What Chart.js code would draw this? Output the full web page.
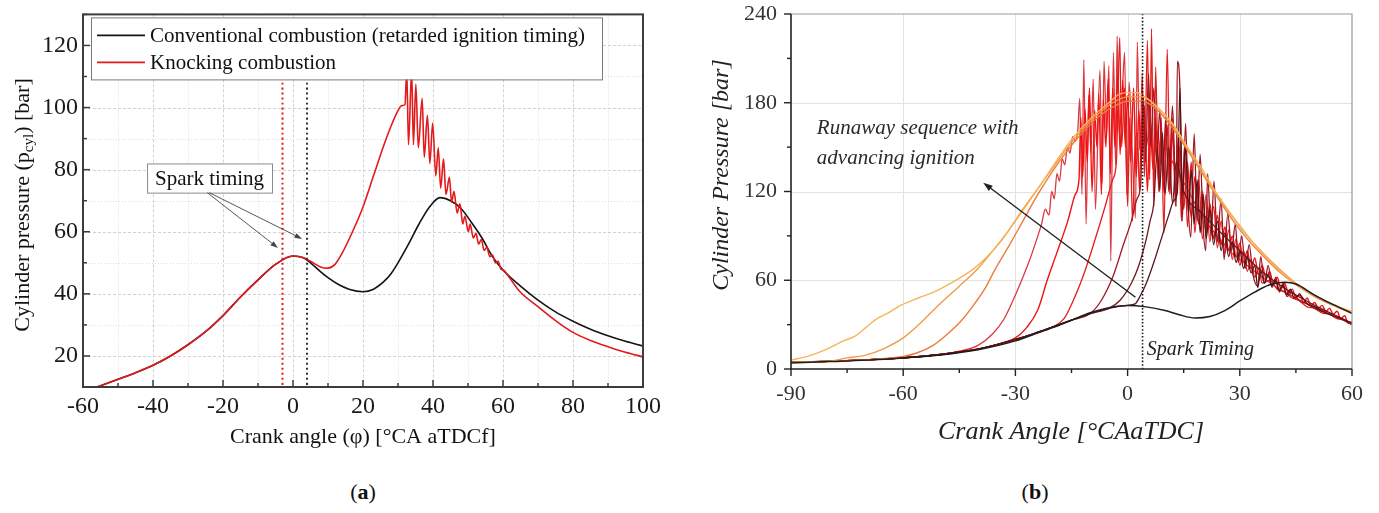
<!DOCTYPE html>
<html>
<head>
<meta charset="utf-8">
<script src="https://cdn.jsdelivr.net/npm/chart.js@4.4.0/dist/chart.umd.min.js"></script>
<style>
  html, body { margin: 0; padding: 0; background: #fff; width: 1379px; height: 513px; overflow: hidden; }
  #wrapA { position: absolute; left: 0; top: 0; }
  #wrapB { position: absolute; left: 690px; top: 0; }
  .cap { position: absolute; top: 479px; width: 60px; text-align: center; font: 22px "Liberation Serif", serif; color: #111; }
</style>
</head>
<body>
<div id="wrapA"><canvas id="chartA" width="690" height="460"></canvas></div>
<div id="wrapB"><canvas id="chartB" width="689" height="460"></canvas></div>
<div class="cap" style="left:333px">(<b>a</b>)</div>
<div class="cap" style="left:1005px">(<b>b</b>)</div>
<script>
const serif = '"Liberation Serif", "Times New Roman", serif';

/* ---- panel (a): crank angle vs cylinder pressure ---- */
const convA = [[-56,10],[-50,12.5],[-45,14.6],[-40,17],[-35,20],[-30,23.6],[-25,27.8],[-20,33],[-15,39],[-10,44.5],[-5,49.5],[0,52.2],[3,51.6],[5,50],[8,47],[10,45.2],[13,43],[16,41.5],[20,40.7],[23,41.5],[26,44],[28,46.5],[30,50],[33,56],[36,62.5],[39,68],[42,71],[45,70],[48,67.5],[51,63],[54,58],[57,52],[60,47.7],[65,42.5],[70,38],[75,34.2],[80,31.2],[85,28.6],[90,26.5],[95,24.7],[100,23.2]];
const knockA = [[-56,10],[-50,12.5],[-45,14.6],[-40,17],[-35,20],[-30,23.6],[-25,27.8],[-20,33],[-15,39],[-10,44.5],[-5,49.5],[0,52.2],[3,51.6],[5,50.5],[8,48.6],[10,48.3],[12,49.5],[14,53],[17,60],[20,68],[23,78],[26,88],[28,94],[30,99],[31,100.6],[32,101],[32.5,112],[33,88],[33.9,112],[34.4,88],[35.1,107.5],[35.8,87],[36.9,103],[37.5,84],[38.4,97.5],[39.1,82],[39.9,95],[40.8,78],[41.5,87],[42.2,74],[43,83.5],[43.7,72],[44.7,77.5],[45.3,69.5],[46,73],[46.9,66],[47.7,69],[48.5,62.5],[49.1,65],[50.1,60],[50.6,62.5],[51.5,58],[52.3,59.5],[53,56],[53.8,57.5],[54.6,54],[55.4,55],[56.2,52],[57,52.5],[57.8,50],[58.6,50.5],[59.4,48],[60.2,47.6],[61,46.5],[62,45],[65,40.5],[70,35.9],[75,31.4],[80,27.6],[85,25],[90,23],[95,21.2],[100,19.7]];
const sparkKnockA = -3;
const sparkConvA = 4;
const sparkTopA = 108;
const legendA = ['Conventional combustion (retarded ignition timing)', 'Knocking combustion'];

/* ---- panel (b): runaway knock sequence ---- */
const motorB = [[-90,4.5],[-80,5.2],[-70,6.2],[-60,7.6],[-50,9.8],[-45,11.5],[-40,13.5],[-35,16.5],[-30,20],[-25,24],[-20,28.5],[-15,33],[-10,37.5],[-5,41],[0,43]];
const convB = [[-90,4],[-80,5],[-70,6],[-60,7.5],[-50,9.5],[-40,13],[-30,19],[-25,23.5],[-20,28],[-15,33],[-10,38],[-5,41.5],[0,43],[5,42],[10,39.5],[14,36.5],[18,34.5],[22,35.5],[26,39.5],[30,46],[34,52],[38,57],[42,58.7],[45,57.5],[50,50],[55,43.5],[60,37.7]];
const orange1B = [[-90,6],[-85,9],[-80,14],[-76,19],[-73,22],[-70,28],[-67,34],[-64,38],[-60.7,43],[-56,48],[-51.8,52],[-48,57],[-44.6,62],[-41,68],[-37.5,76],[-34,86],[-30,100],[-25,118],[-20,137],[-15,155],[-10,169],[-5,180],[-2,186],[2,187],[7,179],[12,166],[16,150],[20,135],[23,122],[27,107],[30,97],[34,84],[38,73],[43,61],[47,54],[52,47],[56,42.5],[60,39]];
const orange2B = [[-75,7.5],[-70,9.4],[-65,14],[-60,21],[-55,32],[-50,44.5],[-45,56],[-40,68],[-36,80],[-32,93],[-28,108],[-24,122],[-20,136],[-16,150],[-12,162],[-8,172],[-4,180],[0,184],[4,184],[8,177],[12,165],[16,149],[20,133],[24,117],[28,103],[32,90],[36,79],[40,69],[45,58],[50,50],[55,43.5],[60,38]];
const orange3B = [[-60,8.5],[-56.4,10.8],[-52,16],[-48,24],[-44,34],[-40.8,44.5],[-38,55],[-35.5,67],[-32,82],[-28,100],[-24,118],[-20,134],[-16,148],[-12,160],[-8,170],[-4,177],[0,181],[4,181],[8,175],[12,163],[16,148],[20,132],[24,116],[28,101],[32,88],[36,77],[40,67],[45,57],[50,49],[55,43],[60,37.5]];
const cycleA = [[-45,12],[-40,16],[-36,24],[-33,34],[-30,50],[-28,62],[-26,75],[-24,90],[-23,98],[-22,108],[-21,104],[-20.3,120],[-19.6,115],[-18.9,132],[-18.2,127],[-17.5,142],[-16.8,138],[-16.1,150],[-15.4,146],[-14.7,157],[-14,154],[-13.3,162],[-12.8,183],[-12.2,118],[-11.7,209],[-11.1,98],[-10.4,185],[-9.8,146],[-9.2,196],[-8.6,108],[-7.4,202],[-6.8,126],[-6.3,208],[-5.6,158],[-5,205],[-4.5,73],[-3.8,214],[-3.2,138],[-2.8,225],[-2.3,160],[-1.5,182],[-0.8,214],[-0.2,118],[0.4,194],[1.2,150],[2.1,102],[2.6,221],[3.2,148],[4,172],[5,150],[6,168],[7,140],[8,160],[9,138],[10,150],[12,140],[14,130],[16,122],[18,112],[20,104],[22,96],[24,90],[26,84],[28,78],[30,74],[33,68],[36,62],[40,55],[45,48],[50,42],[55,36],[60,31]];
const cycleB = [[-30,21],[-27,28],[-24,40],[-21.5,60],[-19,78],[-16,100],[-14,118],[-13,128],[-12.5,170],[-12,130],[-11.4,176],[-10.8,140],[-10.2,190],[-9.5,120],[-8.8,175],[-8.2,150],[-7.7,186],[-7,118],[-6.5,182],[-5.8,150],[-5.2,196],[-4.6,132],[-4,190],[-3.4,150],[-2.6,200],[-2,145],[-1.3,195],[-0.6,150],[0,185],[0.8,140],[1.6,190],[2.3,130],[3,175],[3.7,140],[4.5,178],[5.3,120],[6,170],[6.8,135],[7.5,170],[8.2,128],[9,160],[9.7,120],[10.6,165],[11.3,118],[12,160],[13,115],[14,150],[15,108],[16,140],[17,102],[18,130],[19,98],[20,120],[21,92],[22,112],[23,88],[24,104],[25,84],[26,96],[27,80],[28,90],[29,76],[30,85],[31,72],[32,80],[33,68],[34,75],[35,64],[36,70],[37,61],[38,66],[39,57],[40,62],[41,54],[42,58],[43,51],[44,54],[45,48],[46,51],[47,45],[48,48],[49,43],[50,45],[51,41],[52,43],[53,39],[54,41],[55,37],[56,39],[57,34],[58,36],[59,31],[60,32]];
const cycleC = [[-17,34],[-14.5,46.5],[-12,62],[-9,85],[-6,110],[-4,128],[-3,140],[-2.1,224],[-1.6,150],[-0.8,190],[0,110],[0.6,170],[1.3,100],[2,150],[2.6,160],[3.2,120],[3.9,200],[4.5,130],[5.3,222],[5.9,128],[6.4,230],[7,110],[7.5,204],[8.3,120],[9,170],[9.7,92],[10.6,216],[11.3,130],[12,170],[12.8,110],[13.6,160],[14.4,100],[15.2,150],[16,96],[17,140],[18,92],[19,128],[20,88],[21,118],[22,86],[23,110],[24,82],[25,100],[26,78],[27,94],[28,74],[29,88],[30,70],[31,80],[32,66],[33,74],[34,62],[35,68],[36,58],[38,60],[40,54],[42,52],[44,48],[46,46],[48,42],[50,41],[52,38],[54,37],[56,34],[58,33],[60,30]];
const cycleD = [[-7,46.5],[-4,62],[-1,85],[1,100],[2.5,115],[3.5,125],[4.2,185],[4.8,140],[5.6,200],[6.2,150],[7,190],[7.8,140],[8.6,175],[9.4,130],[10.2,170],[11,120],[12,178],[13,110],[13.3,208],[14,189],[14.6,100],[15.5,166],[16.2,110],[16.9,89],[17.8,159],[18.6,100],[19.4,145],[20.2,96],[20.9,80],[21.4,132],[22.3,90],[23.1,127],[24,86],[25,115],[25.8,74],[26.8,105],[27.8,80],[28.8,98],[29.6,72],[30.5,90],[31.5,68],[32.5,84],[33.5,64],[34.8,56],[35.6,76],[36.6,58],[37.6,70],[38.6,55],[39.6,62],[40.6,52],[41.6,58],[42.6,49],[44,52],[46,46],[48,44],[50,41],[53,38],[56,35],[60,30]];
const cycleE = [[2,44],[3.5,50],[5,58],[7,72],[9,88],[11,104],[12.4,114],[13.3,120],[14,190],[14.6,118],[15.5,150],[16.3,105],[17,135],[17.8,98],[18.6,128],[19.4,92],[20.2,118],[21,88],[22,108],[23,84],[24,100],[25,80],[26,92],[27,76],[28,86],[29,72],[30,80],[31,68],[32,76],[33,65],[34,70],[34.8,55],[35.6,66],[36.6,58],[37.6,64],[38.5,56],[39.5,60],[40.5,53],[41.5,57],[42.5,50],[43.5,54],[44.5,48],[46,50],[48,44],[50,42],[53,38],[56,35],[60,31]];
const cycleF = [[-2,46.5],[1,58],[3,70],[5,88],[6,100],[7,112],[8,150],[8.6,120],[9.3,160],[10,118],[11,150],[12,112],[13,140],[15,120],[20,105],[25,92],[30,80],[35,68],[40,58],[45,50],[50,43],[55,37],[60,31]];
const sparkB = 4;
const runawayB = ['Runaway sequence with', 'advancing ignition'];

const toXY = arr => arr.map(p => ({ x: p[0], y: p[1] }));
const withMotor = (start, pts) => motorB.filter(p => p[0] < start).concat(pts);

function arrow(ctx, x0, y0, x1, y1, head, color, w) {
  ctx.strokeStyle = color; ctx.fillStyle = color; ctx.lineWidth = w;
  ctx.setLineDash([]);
  const ang = Math.atan2(y1 - y0, x1 - x0);
  ctx.beginPath(); ctx.moveTo(x0, y0); ctx.lineTo(x1 - head * 0.6 * Math.cos(ang), y1 - head * 0.6 * Math.sin(ang)); ctx.stroke();
  ctx.beginPath(); ctx.moveTo(x1, y1);
  ctx.lineTo(x1 - head * Math.cos(ang - 0.33), y1 - head * Math.sin(ang - 0.33));
  ctx.lineTo(x1 - head * Math.cos(ang + 0.33), y1 - head * Math.sin(ang + 0.33));
  ctx.closePath(); ctx.fill();
}

function ticks(ctx, scale, from, to, step, majorEvery, len, minorLen, axis, base, dir) {
  for (let v = from; v <= to + 1e-9; v += step) {
    const isMajor = Math.abs(Math.round(v / majorEvery) * majorEvery - v) < 1e-6;
    const L = isMajor ? len : minorLen;
    const p = scale.getPixelForValue(v);
    ctx.beginPath();
    if (axis === 'x') { ctx.moveTo(p, base); ctx.lineTo(p, base + dir * L); }
    else { ctx.moveTo(base, p); ctx.lineTo(base + dir * L, p); }
    ctx.stroke();
  }
}

const decorA = {
  id: 'decorA',
  beforeDatasetsDraw(c) {
    const { ctx, chartArea: a, scales: { x, y } } = c;
    ctx.save();
    ctx.lineWidth = 1;
    for (let v = -50; v < 100; v += 10) {
      const p = Math.round(x.getPixelForValue(v)) + 0.5;
      ctx.strokeStyle = v % 20 === 0 ? '#d2d2d2' : '#dedede';
      ctx.setLineDash(v % 20 === 0 ? [3, 2] : [1, 2]);
      ctx.beginPath(); ctx.moveTo(p, a.top); ctx.lineTo(p, a.bottom); ctx.stroke();
    }
    for (let v = 20; v < 130; v += 10) {
      const p = Math.round(y.getPixelForValue(v)) + 0.5;
      ctx.strokeStyle = v % 20 === 0 ? '#d2d2d2' : '#dedede';
      ctx.setLineDash(v % 20 === 0 ? [3, 2] : [1, 2]);
      ctx.beginPath(); ctx.moveTo(a.left, p); ctx.lineTo(a.right, p); ctx.stroke();
    }
    ctx.restore();
  },
  afterDatasetsDraw(c) {
    const { ctx, chartArea: a, scales: { x, y } } = c;
    ctx.save();
    // frame and inward ticks
    ctx.setLineDash([]);
    ctx.strokeStyle = '#3c3c3c'; ctx.lineWidth = 2;
    ctx.strokeRect(a.left, a.top, a.right - a.left, a.bottom - a.top);
    ctx.lineWidth = 1.5;
    ticks(ctx, x, -60, 100, 10, 20, 7, 4, 'x', a.bottom, -1);
    ticks(ctx, y, 10, 130, 10, 20, 7, 4, 'y', a.left, 1);

    // legend
    const lx = a.left + 8, ly = a.top + 3;
    ctx.fillStyle = '#fff'; ctx.fillRect(lx, ly, 511, 62);
    ctx.strokeStyle = '#7a7a7a'; ctx.lineWidth = 1; ctx.strokeRect(lx + 0.5, ly + 0.5, 511, 62);
    const cols = ['#141414', '#e3191c'];
    ctx.font = '21px ' + serif; ctx.textBaseline = 'middle'; ctx.textAlign = 'left';
    legendA.forEach((t, i) => {
      const yy = ly + 18 + i * 27;
      ctx.strokeStyle = cols[i]; ctx.lineWidth = 1.6;
      ctx.beginPath(); ctx.moveTo(lx + 6, yy); ctx.lineTo(lx + 54, yy); ctx.stroke();
      ctx.fillStyle = '#111'; ctx.fillText(t, lx + 59, yy + 1);
    });

    // spark timing label box and arrows
    const bx0 = x.getPixelForValue(-41.7), bx1 = x.getPixelForValue(-6);
    const by0 = y.getPixelForValue(82), by1 = y.getPixelForValue(72.6);
    ctx.fillStyle = '#fff'; ctx.fillRect(bx0, by0, bx1 - bx0, by1 - by0);
    ctx.strokeStyle = '#8a8a8a'; ctx.lineWidth = 1; ctx.strokeRect(bx0 + 0.5, by0 + 0.5, bx1 - bx0, by1 - by0);
    ctx.fillStyle = '#111'; ctx.textAlign = 'center';
    ctx.font = '21px ' + serif;
    ctx.fillText('Spark timing', (bx0 + bx1) / 2, (by0 + by1) / 2 + 1);
    const sx = x.getPixelForValue(-24.5), sy = by1;
    arrow(ctx, sx, sy, x.getPixelForValue(-4.3), y.getPixelForValue(54.8), 8, '#444', 0.9);
    arrow(ctx, sx + 2, sy, x.getPixelForValue(2.6), y.getPixelForValue(57.7), 8, '#444', 0.9);
    ctx.restore();
  },
  afterDraw(c) {
    const { ctx } = c;
    ctx.save();
    ctx.fillStyle = '#111'; ctx.textBaseline = 'middle';
    ctx.font = '22px ' + serif; ctx.textAlign = 'center';
    ctx.fillText('Crank angle (\u03C6) [\u00B0CA aTDCf]', 363, 437);
    // rotated y title with subscript
    const parts = [['Cylinder pressure (p', 22, 0], ['cyl', 15, 6], [') [bar]', 22, 0]];
    let w = 0;
    parts.forEach(p => { ctx.font = p[1] + 'px ' + serif; w += ctx.measureText(p[0]).width; });
    ctx.translate(23, 205); ctx.rotate(-Math.PI / 2);
    ctx.textAlign = 'left';
    let cx = -w / 2;
    parts.forEach(p => { ctx.font = p[1] + 'px ' + serif; ctx.fillText(p[0], cx, p[2]); cx += ctx.measureText(p[0]).width; });
    ctx.restore();
  }
};

const decorB = {
  id: 'decorB',
  beforeDatasetsDraw(c) {
    const { ctx, chartArea: a, scales: { x, y } } = c;
    ctx.save();
    ctx.strokeStyle = '#e2e2e2'; ctx.lineWidth = 1;
    [-60, -30, 0, 30].forEach(v => {
      const p = Math.round(x.getPixelForValue(v)) + 0.5;
      ctx.beginPath(); ctx.moveTo(p, a.top); ctx.lineTo(p, a.bottom); ctx.stroke();
    });
    [60, 120, 180].forEach(v => {
      const p = Math.round(y.getPixelForValue(v)) + 0.5;
      ctx.beginPath(); ctx.moveTo(a.left, p); ctx.lineTo(a.right, p); ctx.stroke();
    });
    ctx.restore();
  },
  afterDatasetsDraw(c) {
    const { ctx, chartArea: a, scales: { x, y } } = c;
    ctx.save();
    ctx.strokeStyle = '#9a9a9a'; ctx.lineWidth = 1.2;
    ctx.beginPath(); ctx.moveTo(a.left, a.top); ctx.lineTo(a.right, a.top); ctx.lineTo(a.right, a.bottom); ctx.stroke();
    ctx.strokeStyle = '#222'; ctx.lineWidth = 1.6;
    ctx.beginPath(); ctx.moveTo(a.left, a.top); ctx.lineTo(a.left, a.bottom); ctx.lineTo(a.right, a.bottom); ctx.stroke();
    ctx.lineWidth = 1.4;
    ticks(ctx, x, -90, 60, 15, 30, 7, 4, 'x', a.bottom, 1);
    ticks(ctx, y, 0, 240, 30, 60, 7, 4, 'y', a.left, -1);

    // runaway annotation
    ctx.fillStyle = '#2a2a2a'; ctx.textAlign = 'left'; ctx.textBaseline = 'middle';
    ctx.font = 'italic 21px ' + serif;
    ctx.fillText(runawayB[0], x.getPixelForValue(-83.1), y.getPixelForValue(162.5));
    ctx.fillText(runawayB[1], x.getPixelForValue(-83.1), y.getPixelForValue(142.2));
    arrow(ctx, x.getPixelForValue(2.1), y.getPixelForValue(48.5), x.getPixelForValue(-38.6), y.getPixelForValue(126), 10, '#222', 1.4);
    ctx.font = 'italic 20px ' + serif;
    ctx.fillText('Spark Timing', x.getPixelForValue(5.1), y.getPixelForValue(12.8));
    ctx.restore();
  },
  afterDraw(c) {
    const { ctx } = c;
    ctx.save();
    ctx.fillStyle = '#222'; ctx.textBaseline = 'middle'; ctx.textAlign = 'center';
    ctx.font = 'italic 26px ' + serif;
    ctx.fillText('Crank Angle [\u00B0CAaTDC]', 381, 432);
    ctx.font = 'italic 24px ' + serif;
    ctx.translate(32, 175); ctx.rotate(-Math.PI / 2);
    ctx.fillText('Cylinder Pressure [bar]', 0, 0);
    ctx.restore();
  }
};

function line(data, color, width, extra) {
  return Object.assign({ data: toXY(data), borderColor: color, borderWidth: width, pointRadius: 0,
    cubicInterpolationMode: 'monotone', fill: false }, extra || {});
}

const hiddenGrid = len => ({ display: true, color: 'rgba(0,0,0,0)', drawOnChartArea: false, drawTicks: true, tickLength: len });

new Chart(document.getElementById('chartA'), {
  type: 'line',
  data: {
    datasets: [
      line([[sparkKnockA, sparkTopA], [sparkKnockA, 10]], '#e3191c', 2, { borderDash: [2, 3] }),
      line([[sparkConvA, sparkTopA], [sparkConvA, 10]], '#333', 2, { borderDash: [2, 3] }),
      line(knockA, '#e3191c', 1.6),
      line(convA, '#141414', 1.6)
    ]
  },
  options: {
    responsive: false, animation: false, devicePixelRatio: 1,
    layout: { padding: { left: 0, top: 14, right: 47, bottom: 0 } },
    plugins: { legend: { display: false }, tooltip: { enabled: false } },
    scales: {
      x: {
        type: 'linear', min: -60, max: 100,
        afterFit: s => { s.height = 73; },
        grid: hiddenGrid(0), border: { display: false },
        ticks: { stepSize: 10, padding: 5, maxRotation: 0, autoSkip: false, color: '#1a1a1a',
          font: { family: serif, size: 24 }, callback: v => (v % 20 === 0 ? String(v) : '') }
      },
      y: {
        type: 'linear', min: 10, max: 130,
        afterFit: s => { s.width = 83; },
        grid: hiddenGrid(5), border: { display: false },
        ticks: { stepSize: 10, padding: 0, autoSkip: false, color: '#1a1a1a',
          font: { family: serif, size: 24 }, callback: v => (v % 20 === 0 && v < 130 ? String(v) : '') }
      }
    }
  },
  plugins: [decorA]
});

new Chart(document.getElementById('chartB'), {
  type: 'line',
  data: {
    datasets: [
      line([[sparkB, 240], [sparkB, 0]], '#111', 1.6, { borderDash: [1.5, 2] }),
      line(convB, '#1e1e1e', 1.5),
      line(orange1B, '#f6b55c', 1.4),
      line(withMotor(-75, orange2B), '#f29a48', 1.4),
      line(withMotor(-60, orange3B), '#ec7c3e', 1.4),
      line(withMotor(1, cycleE), '#551418', 1.3),
      line(withMotor(-2, cycleF), '#6e161e', 1.3),
      line(withMotor(-7, cycleD), '#a3161f', 1.3),
      line(withMotor(-17, cycleC), '#e41c1c', 1.3),
      line(withMotor(-30, cycleB), '#f21010', 1.4),
      line(withMotor(-45, cycleA), '#dc3a40', 1.3)
    ]
  },
  options: {
    responsive: false, animation: false, devicePixelRatio: 1,
    layout: { padding: { left: 0, top: 14, right: 27, bottom: 0 } },
    plugins: { legend: { display: false }, tooltip: { enabled: false } },
    scales: {
      x: {
        type: 'linear', min: -90, max: 60,
        afterFit: s => { s.height = 91; },
        grid: hiddenGrid(0), border: { display: false },
        ticks: { stepSize: 15, padding: 12, maxRotation: 0, autoSkip: false, color: '#333',
          font: { family: serif, size: 22 }, callback: v => (v % 30 === 0 ? String(v) : '') }
      },
      y: {
        type: 'linear', min: 0, max: 240,
        afterFit: s => { s.width = 101; },
        grid: hiddenGrid(14), border: { display: false },
        ticks: { stepSize: 30, padding: 0, autoSkip: false, color: '#333',
          font: { family: serif, size: 22 }, callback: v => (v % 60 === 0 ? String(v) : '') }
      }
    }
  },
  plugins: [decorB]
});
</script>
</body>
</html>
